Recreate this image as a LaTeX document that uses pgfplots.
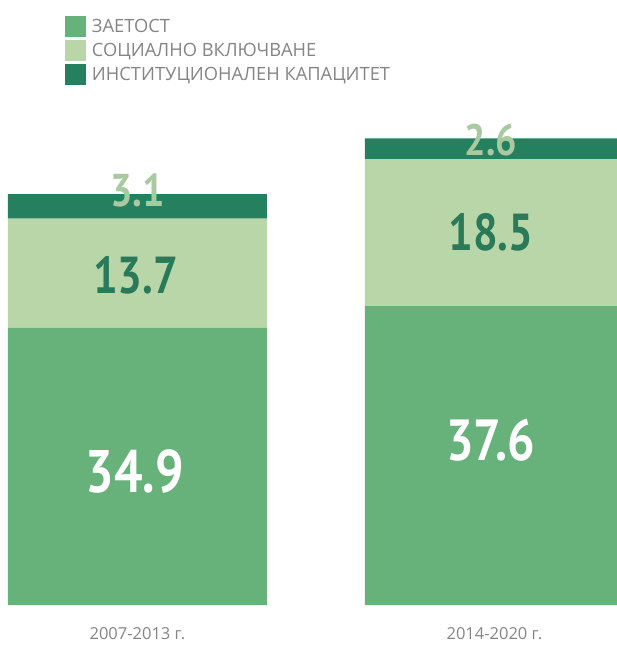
\documentclass[border=0pt]{standalone}
\usepackage{fontspec}
\setmainfont{Open Sans}
\newfontfamily\numfont{PT Sans}
\usepackage{graphicx}
\usepackage{pgfplots}
\pgfplotsset{compat=1.18}
\definecolor{cmed}{HTML}{67B27B}
\definecolor{clight}{HTML}{B8D6A8}
\definecolor{cdark}{HTML}{24805F}
\definecolor{ctxtlight}{HTML}{A9C9A0}
\definecolor{ctxtdark}{HTML}{2A7A5A}
\definecolor{cgray}{HTML}{858585}
\begin{document}
\begin{tikzpicture}
\begin{axis}[
  scale only axis, width=617pt, height=605pt,
  ybar stacked, bar width=259pt,
  xmin=-0.385, xmax=1.343, ymin=0, ymax=76.1,
  axis line style={draw=none}, major tick length=0pt,
  ytick=\empty, xtick={0,1},
  xticklabels={2007-2013 г., 2014-2020 г.},
  xticklabel style={font=\fontsize{16.5}{18}\selectfont, text=cgray, yshift=-19pt},
  legend style={at={(0.105,0.974)}, anchor=north west, draw=none, fill=none,
    font=\fontsize{18.3}{20}\selectfont, text=cgray, row sep=3pt, column sep=4pt, inner sep=0pt,
    cells={anchor=west}},
  legend image code/.code={\fill[#1,draw=none] (0pt,-10.5pt) rectangle (21pt,10.5pt);},
]
\addplot[fill=cmed, draw=none] coordinates {(0,34.9) (1,37.6)};
\addplot[fill=clight, draw=none] coordinates {(0,13.7) (1,18.5)};
\addplot[fill=cdark, draw=none] coordinates {(0,3.1) (1,2.6)};
\legend{ЗАЕТОСТ, СОЦИАЛНО ВКЛЮЧВАНЕ, ИНСТИТУЦИОНАЛЕН КАПАЦИТЕТ}
\coordinate (a1) at (axis cs:-0.008,16.8);
\coordinate (a2) at (axis cs:-0.005,41.5);
\coordinate (a3) at (axis cs:0,52.2);
\coordinate (b1) at (axis cs:0.99,20.75);
\coordinate (b2) at (axis cs:0.99,46.9);
\coordinate (b3) at (axis cs:0.99,58.5);
\end{axis}
\node[text=white, font=\numfont\bfseries\fontsize{60}{62}\selectfont] at (a1) {\scalebox{0.84}[1]{34.9}};
\node[text=ctxtdark, font=\numfont\bfseries\fontsize{52}{54}\selectfont] at (a2) {\scalebox{0.84}[1]{13.7}};
\node[text=ctxtlight, font=\numfont\bfseries\fontsize{46}{48}\selectfont] at (a3) {\scalebox{0.86}[1]{3.1}};
\node[text=white, font=\numfont\bfseries\fontsize{58}{60}\selectfont] at (b1) {\scalebox{0.84}[1]{37.6}};
\node[text=ctxtdark, font=\numfont\bfseries\fontsize{52}{54}\selectfont] at (b2) {\scalebox{0.84}[1]{18.5}};
\node[text=ctxtlight, font=\numfont\bfseries\fontsize{44}{46}\selectfont] at (b3) {\scalebox{0.86}[1]{2.6}};
\path (0,-43pt) rectangle (617pt,605pt);
\end{tikzpicture}
\end{document}
